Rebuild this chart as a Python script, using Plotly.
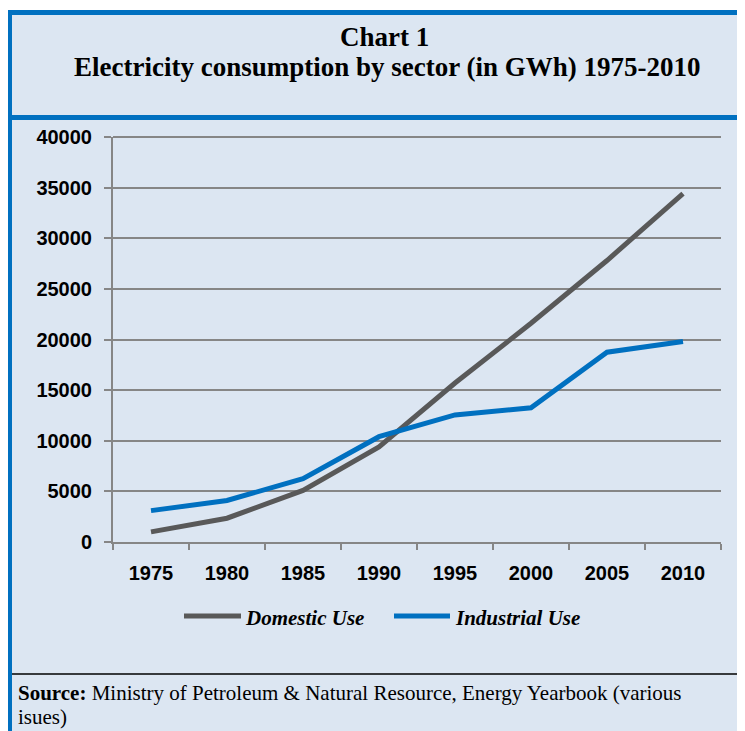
import plotly.graph_objects as go

# values (GWh)
years = ["1975", "1980", "1985", "1990", "1995", "2000", "2005", "2010"]
domestic = [1000, 2350, 5100, 9400, 15700, 21600, 27800, 34400]
industrial = [3100, 4100, 6250, 10400, 12550, 13250, 18750, 19800]
series_names = ["Domestic Use", "Industrial Use"]
series_colors = ["#595959", "#0070c0"]
y_max = 40000

# the page puts the figure 8px in from the top-left corner
OFF = 8
W, H = 745 - OFF, 731 - OFF
BG = "#dce6f2"
BLUE = "#0070c0"
GRID = "#868686"


def px(x):
    return (x - OFF) / W


def py(y):
    return 1 - (y - OFF) / H


fig = go.Figure()
for name, vals, col in zip(series_names, [domestic, industrial], series_colors):
    fig.add_trace(go.Scatter(x=years, y=vals, name=name, mode="lines",
                             line=dict(color=col, width=5), showlegend=False))

shapes = [
    # panel background
    dict(type="rect", xref="paper", yref="paper", x0=px(7), x1=1.02, y0=-0.02, y1=py(10),
         fillcolor=BG, line_width=0, layer="below"),
    # blue frame: top, left, divider under title
    dict(type="rect", xref="paper", yref="paper", x0=px(7), x1=1.02, y0=py(15), y1=py(10),
         fillcolor=BLUE, line_width=0, layer="below"),
    dict(type="rect", xref="paper", yref="paper", x0=px(7), x1=px(12), y0=-0.02, y1=py(10),
         fillcolor=BLUE, line_width=0, layer="below"),
    dict(type="rect", xref="paper", yref="paper", x0=px(7), x1=1.02, y0=py(120), y1=py(115),
         fillcolor=BLUE, line_width=0, layer="below"),
    # thin black rule above the source note
    dict(type="line", xref="paper", yref="paper", x0=px(12), x1=1.02, y0=py(674), y1=py(674),
         line=dict(color="black", width=1.5), layer="below"),
    # top gridline (plotly skips the grid line sitting on the range edge)
    dict(type="line", xref="paper", yref="paper", x0=px(113), x1=px(721), y0=py(137), y1=py(137),
         line=dict(color=GRID, width=2), layer="below"),
]

annotations = [
    dict(text="<b>Chart 1</b>", x=px(384), y=py(37)),
    dict(text="<b>Electricity consumption by sector (in GWh) 1975-2010</b>", x=px(387), y=py(67)),
]
for a in annotations:
    a.update(xref="paper", yref="paper", showarrow=False, xanchor="center", yanchor="middle",
             font=dict(family="Liberation Serif", size=27, color="black"))

# legend drawn by hand so the sample lines are as long as in the original
leg_x = [(184, 241, 243), (394, 450, 453)]
for name, col, (l0, l1, tx) in zip(series_names, series_colors, leg_x):
    shapes.append(dict(type="line", xref="paper", yref="paper", x0=px(l0), x1=px(l1),
                       y0=py(616), y1=py(616), line=dict(color=col, width=5)))
    annotations.append(dict(text="<b><i>" + name + "</i></b>", x=px(tx), y=py(618),
                            xref="paper", yref="paper", showarrow=False,
                            xanchor="left", yanchor="middle",
                            font=dict(family="Liberation Serif", size=21, color="black")))

annotations.append(dict(
    text="<b>Source:</b> Ministry of Petroleum &amp; Natural Resource, Energy Yearbook (various",
    x=px(16), y=py(693), xref="paper", yref="paper", showarrow=False,
    xanchor="left", yanchor="middle",
    font=dict(family="Liberation Serif", size=21, color="black")))
annotations.append(dict(
    text="isues)", x=px(16), y=py(717), xref="paper", yref="paper", showarrow=False,
    xanchor="left", yanchor="middle",
    font=dict(family="Liberation Serif", size=21, color="black")))

fig.update_layout(
    width=W, height=H,
    margin=dict(l=0, r=0, t=0, b=0, autoexpand=False),
    paper_bgcolor="white",
    plot_bgcolor="rgba(0,0,0,0)",
    shapes=shapes,
    annotations=annotations,
    xaxis=dict(domain=[px(113), px(721)], type="category", range=[-0.5, 7.5],
               automargin=False,
               showgrid=False, showline=True, linecolor=GRID, linewidth=2,
               ticks="outside", tickson="boundaries", ticklen=6, tickcolor=GRID, tickwidth=2,
               ticklabelstandoff=12,
               tickfont=dict(family="Liberation Sans", size=20, color="black", weight="bold")),
    yaxis=dict(domain=[py(542), py(137)], range=[0, y_max], dtick=5000, tickformat="d",
               automargin=False,
               showgrid=True, gridcolor=GRID, gridwidth=2, zeroline=False,
               showline=True, linecolor=GRID, linewidth=2,
               ticks="outside", ticklen=7, tickcolor=GRID, tickwidth=2,
               ticklabelstandoff=8,
               tickfont=dict(family="Liberation Sans", size=20, color="black", weight="bold")),
)

fig.write_html("out.html")
